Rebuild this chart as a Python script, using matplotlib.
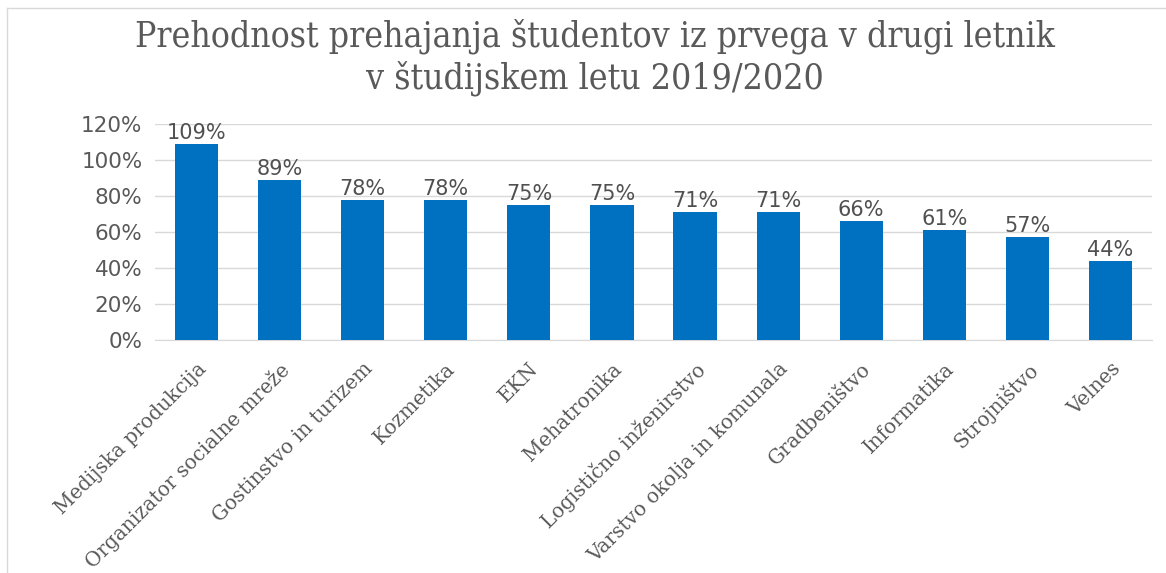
import matplotlib
matplotlib.use("Agg")
import matplotlib.pyplot as plt
from matplotlib.lines import Line2D
from matplotlib.ticker import FuncFormatter

categories = ["Medijska produkcija", "Organizator socialne mreže", "Gostinstvo in turizem",
              "Kozmetika", "EKN", "Mehatronika", "Logistično inženirstvo",
              "Varstvo okolja in komunala", "Gradbeništvo", "Informatika",
              "Strojništvo", "Velnes"]
values = [109, 89, 78, 78, 75, 75, 71, 71, 66, 61, 57, 44]
title = "Prehodnost prehajanja študentov iz prvega v drugi letnik\nv študijskem letu 2019/2020"

W, H = 1166, 573
fig = plt.figure(figsize=(W/100, H/100), dpi=100)
ax = fig.add_axes([155/W, 1-340/H, 997/W, (340-124)/H])

x = list(range(len(categories)))
bars = ax.bar(x, values, width=0.52, color="#0070C0", zorder=3)
for xi, v in zip(x, values):
    ax.text(xi, v + 0.6, f"{v}%", ha="center", va="bottom", fontsize=15,
            family="DejaVu Sans", color="#505050")

ax.set_xlim(-0.5, len(categories) - 0.5)
ax.set_ylim(0, 120)
ax.set_yticks(range(0, 121, 20))
ax.yaxis.set_major_formatter(FuncFormatter(lambda v, p: f"{int(v)}%"))
ax.grid(axis="y", color="#d9d9d9", linewidth=1, zorder=0)
for s in ["top", "right", "left"]:
    ax.spines[s].set_visible(False)
ax.spines["bottom"].set_color("#d9d9d9")
ax.tick_params(axis="both", length=0)
ax.tick_params(axis="y", labelsize=15.5, labelcolor="#595959", pad=9)
for lbl in ax.get_yticklabels():
    lbl.set_family("DejaVu Sans")
ax.set_xticks(x)
ax.set_xticklabels(categories, rotation=45, ha="right", rotation_mode="anchor",
                   fontsize=14.3, family="DejaVu Serif", color="#595959")
ax.tick_params(axis="x", pad=14)

fig.text(595/W, 1-57/H, title, ha="center", va="center", fontsize=25.5,
         family="DejaVu Serif", fontstretch="condensed", color="#595959", linespacing=1.25)

# chart frame
fig.add_artist(Line2D([7/W, 7/W], [0, 1-8/H], color="#d9d9d9", lw=1, transform=fig.transFigure))
fig.add_artist(Line2D([7/W, 1], [1-8/H, 1-8/H], color="#d9d9d9", lw=1, transform=fig.transFigure))

fig.savefig("out.png", dpi=100)
